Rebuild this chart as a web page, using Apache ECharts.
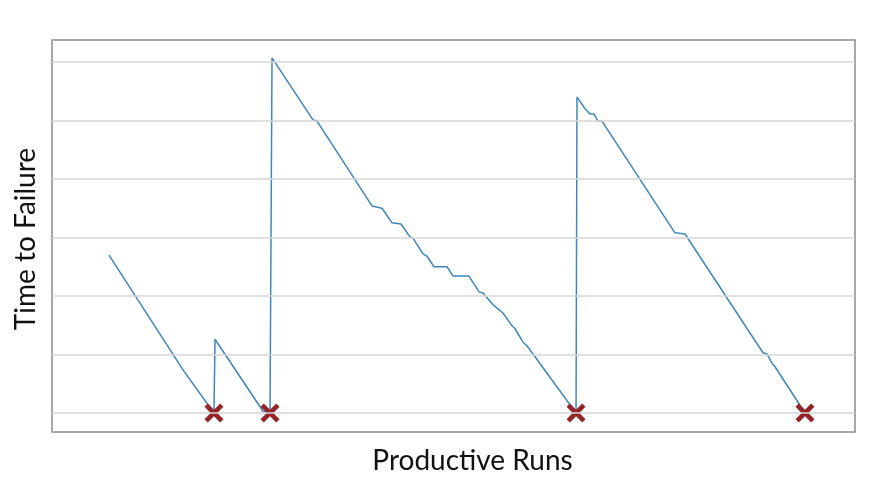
<!DOCTYPE html>
<html>
<head>
<meta charset="utf-8">
<script src="https://cdn.jsdelivr.net/npm/echarts@6/dist/echarts.min.js"></script>
<style>html,body{margin:0;padding:0;background:#fff}#c{width:883px;height:487px}</style>
</head>
<body>
<div id="c"></div>
<script>
// Productive-run position (0..100 scale) and time-to-failure (gridline units)
var runX = [7.10, 16.40, 20.17, 20.30, 26.28, 27.15, 27.40, 32.50, 33.00, 39.85, 41.10, 42.34, 43.46, 44.58, 44.96, 46.20, 46.70, 47.57, 49.19, 49.94, 51.93, 53.18, 53.67, 54.92, 55.54, 56.16, 57.29, 57.66, 58.66, 59.15, 65.26, 65.38, 66.38, 67.00, 67.50, 68.00, 68.49, 77.58, 78.83, 88.54, 89.04, 89.66, 90.04, 93.77];
var timeToFailure = [2.70, 0.72, 0.00, 1.26, 0.03, 0.00, 6.07, 5.01, 4.99, 3.54, 3.50, 3.25, 3.23, 3.01, 2.99, 2.72, 2.68, 2.50, 2.50, 2.34, 2.34, 2.07, 2.05, 1.85, 1.78, 1.71, 1.49, 1.44, 1.21, 1.15, 0.00, 5.40, 5.20, 5.11, 5.11, 4.99, 4.99, 3.08, 3.06, 1.03, 1.01, 0.85, 0.79, 0.00];
var failureX = [20.17, 27.15, 65.26, 93.77];
var failureY = [0, 0, 0, 0];
var gridLevels = [0, 1, 2, 3, 4, 5, 6];

var lineData = runX.map(function (x, i) { return [x, timeToFailure[i]]; });
var failData = failureX.map(function (x, i) { return [x, failureY[i]]; });

var chart = echarts.init(document.getElementById('c'), null, {renderer: 'canvas'});
var font = 'Lato, "Open Sans", sans-serif';
chart.setOption({
  animation: false,
  grid: {left: 52, top: 40, right: 28, bottom: 55, show: true, borderColor: '#8a8a8a', borderWidth: 1.5, backgroundColor: '#fff'},
  xAxis: {
    type: 'value', min: 0, max: 100,
    name: 'Productive Runs', nameLocation: 'middle', nameGap: 15,
    nameTextStyle: {fontFamily: font, fontSize: 28, color: '#111', padding: [0, 0, 0, 38]},
    axisLine: {show: false}, axisTick: {show: false}, axisLabel: {show: false}, splitLine: {show: false}
  },
  yAxis: {
    type: 'value', min: -0.325, max: 6.376,
    name: 'Time to Failure', nameLocation: 'middle', nameGap: 12,
    nameTextStyle: {fontFamily: font, fontSize: 28, color: '#111', padding: [0, 6, 0, 0]},
    axisLine: {show: false}, axisTick: {show: false}, axisLabel: {show: false}, splitLine: {show: false}
  },
  series: [
    {
      type: 'line', data: lineData, showSymbol: false, symbol: 'none',
      lineStyle: {color: '#3f87bb', width: 1.5},
      z: 3,
      markLine: {
        silent: true, symbol: 'none', label: {show: false},
        lineStyle: {color: '#d6d6d6', width: 1.5, type: 'solid'},
        data: gridLevels.map(function (v) { return {yAxis: v}; })
      }
    },
    {
      type: 'scatter', data: failData, z: 4,
      symbol: 'path://M3.5,0 L10,6.5 L16.5,0 L20,3.5 L13.5,10 L20,16.5 L16.5,20 L10,13.5 L3.5,20 L0,16.5 L6.5,10 L0,3.5 Z',
      symbolSize: 19,
      itemStyle: {color: '#962327', opacity: 1}
    }
  ]
});
</script>
</body>
</html>
